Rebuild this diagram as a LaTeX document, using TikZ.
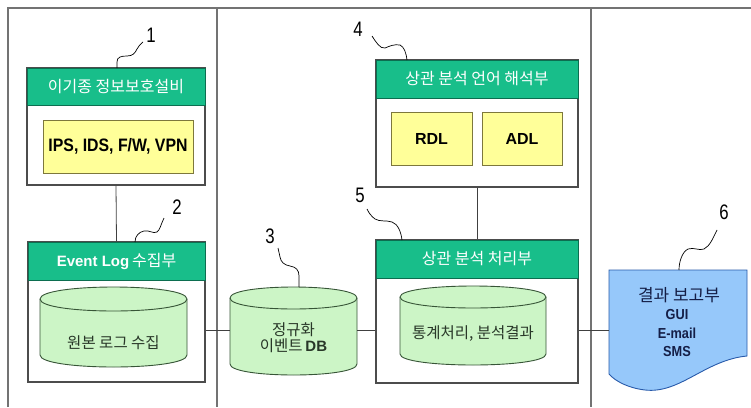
\documentclass[tikz,border=0pt]{standalone}
\usepackage{fontspec}
\setmainfont{Liberation Sans}
\newfontfamily\kr{Noto Sans CJK KR}
\newfontfamily\narrowsans[FakeStretch=0.88]{Liberation Sans}
\newfontfamily\numfont[FakeStretch=0.8]{Liberation Sans}

\definecolor{hdrgreen}{RGB}{24,190,138}
\definecolor{hdredge}{RGB}{12,110,80}
\definecolor{ylwfill}{RGB}{255,255,153}
\definecolor{ylwedge}{RGB}{125,120,60}
\definecolor{dbfill}{RGB}{204,245,198}
\definecolor{dbedge}{RGB}{55,85,55}
\definecolor{docfill}{RGB}{150,200,250}
\definecolor{docedge}{RGB}{40,90,170}
\definecolor{framegray}{RGB}{115,115,115}
\definecolor{doctext}{RGB}{20,30,70}
\definecolor{dbtext}{RGB}{40,55,40}

\tikzset{
  unitbox/.style={draw=black!70, line width=1.1pt, fill=white, inner sep=0pt},
  hdr/.style={draw=hdredge, fill=hdrgreen, line width=0.8pt, text=white, inner sep=0pt},
  tagbox/.style={draw=ylwedge, fill=ylwfill, line width=0.9pt, inner sep=0pt},
  link/.style={draw=black!75, line width=0.8pt},
  leader/.style={draw=black, line width=0.7pt},
  numlabel/.style={font=\numfont\fontsize{21}{21}\selectfont},
  krhead/.style={font=\kr\fontsize{16}{16}\selectfont},
  dbbody/.style={fill=dbfill},
  dbline/.style={draw=dbedge, line width=0.9pt},
  anchorbox/.style={inner sep=0pt, outer sep=0pt},
  frameline/.style={draw=framegray, line width=1.3pt},
}

% database drum: #1 left x, #2 right x, #3 top y, #4 bottom y, #5 cap radius
\newcommand\dbdrum[5]{%
  \path[dbbody, dbline] ({#1},{#3+#5}) -- ({#1},{#4-#5})
    .. controls ({#1},{#4+0.333*#5}) and ({#2},{#4+0.333*#5}) .. ({#2},{#4-#5})
    -- ({#2},{#3+#5})
    .. controls ({#2},{#3-0.333*#5}) and ({#1},{#3-0.333*#5}) .. cycle;
  \draw[dbline] ({#1},{#3+#5})
    .. controls ({#1},{#3+2.333*#5}) and ({#2},{#3+2.333*#5}) .. ({#2},{#3+#5});
}

\begin{document}
\begin{tikzpicture}[x=1pt,y=-1pt]
\useasboundingbox (0,0) rectangle (751,407);

% frame and column dividers
\draw[frameline] (8,407) -- (8,8) -- (751,8);
\draw[frameline] (217,8) -- (217,407);
\draw[frameline] (591,8) -- (591,407);

% unit 1: security devices
\node[unitbox, minimum width=178pt, minimum height=117pt] (u1) at (116,126.5) {};
\node[hdr, krhead, minimum width=178pt, minimum height=37pt] (h1) at (116,86.5) {이기종 정보보호설비};
\node[tagbox, minimum width=150pt, minimum height=53pt, font=\narrowsans\bfseries\fontsize{18}{18}\selectfont] (t1) at (118,146.5) {IPS, IDS, F/W, VPN};

% unit 2: event log collector
\node[unitbox, minimum width=177pt, minimum height=140pt] (u2) at (116.5,312) {};
\node[hdr, minimum width=177pt, minimum height=38pt] (h2) at (116.5,261)
  {{\bfseries\fontsize{15}{15}\selectfont Event Log} {\kr\fontsize{16}{16}\selectfont 수집부}};
\dbdrum{40}{187}{287}{367}{12}
\node[anchorbox, minimum width=147pt, minimum height=80pt] (c2) at (113.5,327) {};
\node[text=dbtext, font=\kr\fontsize{15.5}{15.5}\selectfont] (c2t) at (113.5,343) {원본 로그 수집};

% normalized event store
\dbdrum{230}{357}{287}{375}{11}
\node[anchorbox, minimum width=127pt, minimum height=88pt] (c3) at (293.5,330) {};
\node[text=dbtext, align=center] (c3t) at (293.5,338)
  {{\kr\fontsize{15.5}{19}\selectfont 정규화}\\[1pt]{\kr\fontsize{15.5}{19}\selectfont 이벤트} {\bfseries\fontsize{15}{19}\selectfont DB}};

% unit 4: rule language interpreter
\node[unitbox, minimum width=202pt, minimum height=127pt] (u4) at (477,123.5) {};
\node[hdr, krhead, minimum width=202pt, minimum height=38pt] (h4) at (477,79) {상관 분석 언어 해석부};
\node[tagbox, minimum width=81pt, minimum height=53pt, font=\bfseries\fontsize{16}{16}\selectfont] (rdl) at (431.5,138.5) {RDL};
\node[tagbox, minimum width=80pt, minimum height=53pt, font=\bfseries\fontsize{16}{16}\selectfont] (adl) at (522,138.5) {ADL};

% unit 5: correlation engine
\node[unitbox, minimum width=202pt, minimum height=143pt] (u5) at (477,311.5) {};
\node[hdr, krhead, minimum width=202pt, minimum height=38pt] (h5) at (477,259) {상관 분석 처리부};
\dbdrum{400}{546}{286}{365}{11}
\node[anchorbox, minimum width=146pt, minimum height=79pt] (c5) at (473,325.5) {};
\node[text=dbtext, font=\kr\fontsize{15.5}{15.5}\selectfont] (c5t) at (473,334) {통계처리, 분석결과};

% report document
\path[fill=docfill, draw=docedge, line width=0.9pt] (609,270) -- (747,270) -- (747,356)
  .. controls (705,360) and (680,394) .. (645,390)
  .. controls (628,388) and (615,381) .. (609,374) -- cycle;
\node[anchorbox, minimum width=138pt, minimum height=120pt] (d6) at (678,330) {};
\node[text=doctext, font=\kr\fontsize{17}{17}\selectfont] (d6a) at (679,295) {결과 보고부};
\node[text=doctext, font=\narrowsans\bfseries\fontsize{14.5}{14.5}\selectfont] (d6b) at (677,315) {GUI};
\node[text=doctext, font=\narrowsans\bfseries\fontsize{14.5}{14.5}\selectfont] (d6c) at (677,333) {E-mail};
\node[text=doctext, font=\narrowsans\bfseries\fontsize{14.5}{14.5}\selectfont] (d6d) at (677,352) {SMS};

% connectors
\draw[link] (u1.south) -- (u2.north);
\draw[link] (u4.south) -- (u5.north);
\draw[link] (c3.west -| u2.east) -- (c3.west);
\draw[link] (c3.east) -- (c3.east -| u5.west);
\draw[link] (d6.west -| u5.east) -- (d6.west);

% reference numerals
\node[numlabel] (n1) at (151,35) {1};
\node[numlabel] (n2) at (177,207) {2};
\node[numlabel] (n3) at (270,236) {3};
\node[numlabel] (n4) at (358,29) {4};
\node[numlabel] (n5) at (360,195) {5};
\node[numlabel] (n6) at (724,212) {6};

% leader lines
\draw[leader] (117,68) -- (117,62) .. controls (117,57) and (121,56) .. (127,56)
  .. controls (133,56) and (135,53) .. (137,49) .. controls (139,46) and (140,44) .. (143,42);
\draw[leader] (135,242) .. controls (135,236) and (139,232) .. (144,231)
  .. controls (150,230) and (153,234) .. (157,232) .. controls (160,230) and (161,224) .. (164,218);
\draw[leader] (299,287) -- (299,276) .. controls (299,270) and (296,267) .. (290,266)
  .. controls (284,265) and (281,262) .. (280,257) -- (278,248);
\draw[leader] (407,60) .. controls (406,52) and (404,47) .. (400,45)
  .. controls (394,44) and (390,46) .. (385,48) .. controls (380,49) and (376,42) .. (372,36);
\draw[leader] (402,240) .. controls (401,232) and (398,224) .. (392,222)
  .. controls (386,220) and (380,222) .. (375,219) .. controls (371,216) and (369,213) .. (367,209);
\draw[leader] (679,270) .. controls (679,262) and (682,252) .. (688,249)
  .. controls (694,247) and (699,251) .. (704,249) .. controls (710,246) and (713,238) .. (717,230);
\end{tikzpicture}
\end{document}
